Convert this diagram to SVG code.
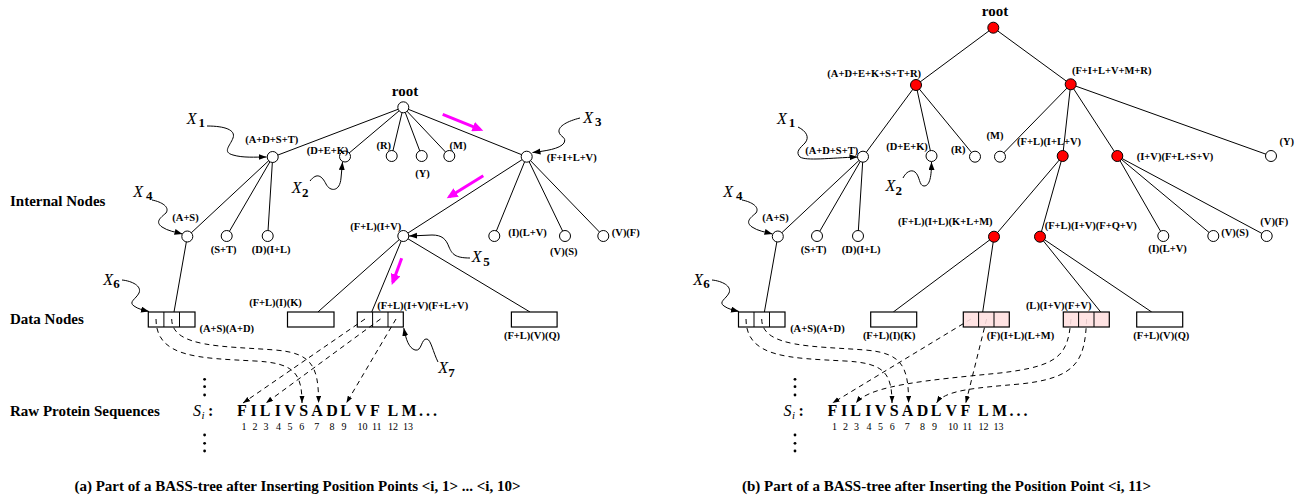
<svg xmlns="http://www.w3.org/2000/svg" width="1305" height="499" viewBox="0 0 1305 499">
<style>
.e{stroke:#000;stroke-width:1;fill:none}
.n{fill:#fff;stroke:#000;stroke-width:1}
.r{fill:#ff0000}
.b{fill:#fff;stroke:#000;stroke-width:1.2}
.p{fill:#ffe0e0}
.d{stroke:#000;stroke-width:1;stroke-dasharray:5 4;fill:none;marker-end:url(#ah)}
.s{stroke:#000;stroke-width:1;fill:none;marker-end:url(#sh)}
.m{stroke:#ff00ff;stroke-width:3;fill:none;marker-end:url(#mh)}
text{font-family:"Liberation Serif","Times New Roman",serif}
.l{font-weight:bold;font-size:10.5px;text-anchor:middle}
.big{font-weight:bold;font-size:15px}
.q{font-weight:bold;font-size:16px;text-anchor:middle}
.k{font-size:10px;text-anchor:middle}
.xl{font-style:italic;font-size:16px}
.xd{font-weight:bold;font-size:13px}
.cap{font-weight:bold;font-size:15px;text-anchor:middle}
</style>
<defs>
<marker id="ah" markerUnits="userSpaceOnUse" markerWidth="8" markerHeight="6" refX="7" refY="2.5" orient="auto"><path d="M0,0 L7,2.5 L0,5 z" fill="#000"/></marker>
<marker id="sh" markerUnits="userSpaceOnUse" markerWidth="9" markerHeight="7" refX="8" refY="3" orient="auto"><path d="M0,0 L8,3 L0,6 z" fill="#000"/></marker>
<marker id="mh" markerUnits="userSpaceOnUse" markerWidth="12" markerHeight="10" refX="8" refY="5" orient="auto"><path d="M0,0 L11,5 L0,10 z" fill="#ff00ff"/></marker>
</defs>

<!-- side labels -->
<g id="side-labels">
<text class="big" x="10" y="206">Internal Nodes</text>
<text class="big" x="10" y="323.5">Data Nodes</text>
<text class="big" x="10" y="415.7">Raw Protein Sequences</text>
</g>

<!-- ===== LEFT PANEL ===== -->
<g id="connectors-a">
<line class="e" x1="403.3" y1="107.3" x2="272.7" y2="157"/>
<line class="e" x1="403.3" y1="107.3" x2="345" y2="156.5"/>
<line class="e" x1="403.3" y1="107.3" x2="391.7" y2="156"/>
<line class="e" x1="403.3" y1="107.3" x2="421.7" y2="156"/>
<line class="e" x1="403.3" y1="107.3" x2="449.3" y2="156"/>
<line class="e" x1="403.3" y1="107.3" x2="526.7" y2="156.7"/>
<line class="e" x1="272.7" y1="157" x2="187.3" y2="236.5"/>
<line class="e" x1="272.7" y1="157" x2="226.7" y2="236"/>
<line class="e" x1="272.7" y1="157" x2="267.7" y2="236"/>
<line class="e" x1="526.7" y1="156.7" x2="403.3" y2="236"/>
<line class="e" x1="526.7" y1="156.7" x2="494.3" y2="236"/>
<line class="e" x1="526.7" y1="156.7" x2="565" y2="236"/>
<line class="e" x1="526.7" y1="156.7" x2="603.3" y2="236"/>
<line class="e" x1="187.3" y1="236.5" x2="174" y2="312"/>
<line class="e" x1="403.3" y1="236" x2="317.9" y2="312"/>
<line class="e" x1="403.3" y1="236" x2="371.7" y2="312"/>
<line class="e" x1="403.3" y1="236" x2="530" y2="312"/>
<path class="d" d="M156,319 C156,358 200,358 255,361 C293,363 302,372 302,403"/>
<path class="d" d="M171.7,319 C171.7,348 225,346 275,350 C312,353 318.6,366 318.6,403"/>
<path class="d" d="M365,319 L243,403"/>
<path class="d" d="M380.5,319 L266,403"/>
<path class="d" d="M396,319 L346.4,403"/>
<path class="s" d="M207,126 C225,126 236,130 233,138 C230,146 222,152 233,155 C243,158 255,157 266.5,157"/>
<path class="s" d="M310,181 C317,172 322,176 326,184 C330,192 340,192 341,178 L342.5,162"/>
<path class="s" d="M580,118 C568,121 558,126 559,132 C560,137 567,137 564,143 C560,149 545,151 532.5,152.5"/>
<path class="s" d="M152,200 C162,202 170,207 166,213 C160,218 155,222 162,227 C168,231 175,232 182.5,234"/>
<path class="s" d="M470,258 C455,258 452,254 449,247 C446,239 442,235 432,235 L409,236"/>
<path class="s" d="M122,280 C132,281 142,286 139,293 C136,299 128,302 134,306 C138,309 143,310 149,311.5"/>
<path class="s" d="M438,362 C433,352 431,340 427,339 C421,338 422,352 415,350 C409,348 406,340 403.8,328"/>
<line class="m" x1="442.7" y1="114.3" x2="480.5" y2="129.6"/>
<line class="m" x1="483.3" y1="175.7" x2="449.3" y2="196.7"/>
<line class="m" x1="401.7" y1="258.3" x2="392.8" y2="282.2"/>
</g>

<g id="a-root"><circle class="n" cx="403.3" cy="107.3" r="5.5"/><text class="big" x="405" y="96" text-anchor="middle">root</text></g>
<g id="a-adst"><circle class="n" cx="272.7" cy="157" r="5.5"/><text class="l" x="271.7" y="143">(A+D+S+T)</text></g>
<g id="a-dek"><circle class="n" cx="345" cy="156.5" r="5.5"/><text class="l" x="327.5" y="153.5">(D+E+K)</text></g>
<g id="a-r"><circle class="n" cx="391.7" cy="156" r="5.5"/><text class="l" x="383.7" y="149">(R)</text></g>
<g id="a-y"><circle class="n" cx="421.7" cy="156" r="5.5"/><text class="l" x="422.5" y="177">(Y)</text></g>
<g id="a-m"><circle class="n" cx="449.3" cy="156" r="5.5"/><text class="l" x="458" y="149">(M)</text></g>
<g id="a-filv"><circle class="n" cx="526.7" cy="156.7" r="5.5"/><text class="l" x="571.7" y="161">(F+I+L+V)</text></g>
<g id="a-as"><circle class="n" cx="187.3" cy="236.5" r="5.5"/><text class="l" x="185.5" y="221">(A+S)</text></g>
<g id="a-st"><circle class="n" cx="226.7" cy="236" r="5.5"/><text class="l" x="223.7" y="252.5">(S+T)</text></g>
<g id="a-dil"><circle class="n" cx="267.7" cy="236" r="5.5"/><text class="l" x="271.2" y="252.5">(D)(I+L)</text></g>
<g id="a-fliv"><circle class="n" cx="403.3" cy="236" r="5.5"/><text class="l" x="375.8" y="230">(F+L)(I+V)</text></g>
<g id="a-ilv"><circle class="n" cx="494.3" cy="236" r="5.5"/><text class="l" x="527.5" y="236">(I)(L+V)</text></g>
<g id="a-vs"><circle class="n" cx="565" cy="236" r="5.5"/><text class="l" x="563.8" y="255">(V)(S)</text></g>
<g id="a-vf"><circle class="n" cx="603.3" cy="236" r="5.5"/><text class="l" x="625.8" y="236">(V)(F)</text></g>

<g id="a-box1"><rect class="b" x="148.3" y="312" width="46.7" height="15" fill-opacity="0"/><line class="e" x1="163.9" y1="312" x2="163.9" y2="327"/><line class="e" x1="179.5" y1="312" x2="179.5" y2="327"/><text class="l" x="226.7" y="331.5">(A+S)(A+D)</text></g>
<g id="a-box2"><rect class="b" x="287.5" y="312" width="46.5" height="15"/><text class="l" x="275.5" y="306">(F+L)(I)(K)</text></g>
<g id="a-box3"><rect class="b" x="357.3" y="312" width="46" height="15" fill-opacity="0"/><line class="e" x1="372.6" y1="312" x2="372.6" y2="327"/><line class="e" x1="388" y1="312" x2="388" y2="327"/><text class="l" x="422.7" y="308.5">(F+L)(I+V)(F+L+V)</text></g>
<g id="a-box4"><rect class="b" x="511.4" y="312" width="45.7" height="15"/><text class="l" x="532" y="339">(F+L)(V)(Q)</text></g>

<g id="a-xlabels">
<text x="186.7" y="124"><tspan class="xl">X</tspan></text><text class="xd" x="198.5" y="127">1</text>
<text x="291.7" y="193.3"><tspan class="xl">X</tspan></text><text class="xd" x="302" y="197">2</text>
<text x="583.3" y="123.3"><tspan class="xl">X</tspan></text><text class="xd" x="595" y="126">3</text>
<text x="133.3" y="197.3"><tspan class="xl">X</tspan></text><text class="xd" x="146" y="200">4</text>
<text x="471.7" y="262.3"><tspan class="xl">X</tspan></text><text class="xd" x="483.3" y="266">5</text>
<text x="103.3" y="285.3"><tspan class="xl">X</tspan></text><text class="xd" x="113.3" y="288">6</text>
<text x="438.3" y="373.3"><tspan class="xl">X</tspan></text><text class="xd" x="448.3" y="376.7">7</text>
</g>

<g id="a-seq">
<circle cx="204.6" cy="379.3" r="1.4"/><circle cx="204.6" cy="386.7" r="1.4"/><circle cx="204.6" cy="395" r="1.4"/>
<circle cx="204.6" cy="435" r="1.4"/><circle cx="204.6" cy="443.3" r="1.4"/><circle cx="204.6" cy="451" r="1.4"/>
<text x="193" y="415.7" class="xl">S</text><text x="201.5" y="419" font-style="italic" font-size="11">i</text><text x="208" y="415.7" font-weight="bold" font-size="16">:</text>
<text class="q" x="242" y="415.7">F</text><text class="q" x="253.6" y="415.7">I</text><text class="q" x="265" y="415.7">L</text><text class="q" x="277.9" y="415.7">I</text><text class="q" x="290" y="415.7">V</text><text class="q" x="303.6" y="415.7">S</text><text class="q" x="317" y="415.7">A</text><text class="q" x="332" y="415.7">D</text><text class="q" x="345.7" y="415.7">L</text><text class="q" x="360.7" y="415.7">V</text><text class="q" x="375" y="415.7">F</text><text class="q" x="392.9" y="415.7">L</text><text class="q" x="409" y="415.7">M</text>
<text x="419" y="415.7" font-weight="bold" font-size="16" letter-spacing="3">...</text>
<text class="k" x="244" y="430">1</text><text class="k" x="255" y="430">2</text><text class="k" x="266" y="430">3</text><text class="k" x="278.6" y="430">4</text><text class="k" x="290" y="430">5</text><text class="k" x="301.8" y="430">6</text><text class="k" x="316.8" y="430">7</text><text class="k" x="332" y="430">8</text><text class="k" x="344" y="430">9</text><text class="k" x="362.5" y="430">10</text><text class="k" x="376.8" y="430">11</text><text class="k" x="392.9" y="430">12</text><text class="k" x="407.9" y="430">13</text>
</g>

<!-- ===== RIGHT PANEL ===== -->
<g id="connectors-b">
<line class="e" x1="993.3" y1="27.7" x2="916" y2="85"/>
<line class="e" x1="993.3" y1="27.7" x2="1070.7" y2="84.3"/>
<line class="e" x1="916" y1="85" x2="863" y2="156.7"/>
<line class="e" x1="916" y1="85" x2="931.5" y2="156"/>
<line class="e" x1="916" y1="85" x2="975" y2="156.7"/>
<line class="e" x1="1070.7" y1="84.3" x2="1000" y2="156.7"/>
<line class="e" x1="1070.7" y1="84.3" x2="1062.7" y2="156"/>
<line class="e" x1="1070.7" y1="84.3" x2="1117.3" y2="156"/>
<line class="e" x1="1070.7" y1="84.3" x2="1271" y2="156"/>
<line class="e" x1="863" y1="156.7" x2="777.8" y2="236.5"/>
<line class="e" x1="863" y1="156.7" x2="817" y2="236"/>
<line class="e" x1="863" y1="156.7" x2="858" y2="236"/>
<line class="e" x1="1062.7" y1="156" x2="994" y2="236.7"/>
<line class="e" x1="1062.7" y1="156" x2="1040" y2="236.7"/>
<line class="e" x1="1117.3" y1="156" x2="1163.3" y2="236"/>
<line class="e" x1="1117.3" y1="156" x2="1213.3" y2="236"/>
<line class="e" x1="1117.3" y1="156" x2="1266.7" y2="236"/>
<line class="e" x1="777.8" y1="236.5" x2="764.4" y2="312"/>
<line class="e" x1="994" y1="236.7" x2="893.3" y2="312"/>
<line class="e" x1="994" y1="236.7" x2="982.7" y2="312"/>
<line class="e" x1="1040" y1="236.7" x2="1100.7" y2="312"/>
<line class="e" x1="1040" y1="236.7" x2="1151.7" y2="312"/>
<path class="d" d="M746,319 C746,358 790,358 845,361 C883,363 892,372 892,403"/>
<path class="d" d="M761.7,319 C761.7,348 815,346 865,350 C902,353 908.6,366 908.6,403"/>
<path class="d" d="M971,319 L832.5,403"/>
<path class="d" d="M986.6,319 L965.8,403"/>
<path class="d" d="M1071,319 C1068,355 1060,366 1000,373 C930,380 870,385 856,403"/>
<path class="d" d="M1086.6,319 C1085,360 1078,378 1020,384 C975,388 945,390 936.5,403"/>
<path class="s" d="M798,127 C806,131 810,137 805,143 C800,148 795,152 800,157 C806,161 830,158 857.5,157"/>
<path class="s" d="M903,178 C906,172 911,169 915,172 C920,176 919,186 924,186 C930,186 931.5,176 931.5,162"/>
<path class="s" d="M742,200 C752,202 760,207 756,213 C750,218 745,222 752,227 C758,231 765,232 772.5,234"/>
<path class="s" d="M712,280 C722,281 732,286 729,293 C726,299 718,302 724,306 C728,309 733,310 739,311.5"/>
</g>

<g id="b-root"><circle class="n r" cx="993.3" cy="27.7" r="5.5"/><text class="big" x="995" y="16" text-anchor="middle">root</text></g>
<g id="b-left"><circle class="n r" cx="916" cy="85" r="5.5"/><text class="l" x="874.2" y="77">(A+D+E+K+S+T+R)</text></g>
<g id="b-right"><circle class="n r" cx="1070.7" cy="84.3" r="5.5"/><text class="l" x="1111.7" y="73.5">(F+I+L+V+M+R)</text></g>
<g id="b-adst"><circle class="n" cx="863" cy="156.7" r="5.5"/><text class="l" x="831.7" y="153.5">(A+D+S+T)</text></g>
<g id="b-dek"><circle class="n" cx="931.5" cy="156" r="5.5"/><text class="l" x="907" y="149.5">(D+E+K)</text></g>
<g id="b-r"><circle class="n" cx="975" cy="156.7" r="5.5"/><text class="l" x="958.3" y="152.8">(R)</text></g>
<g id="b-m"><circle class="n" cx="1000" cy="156.7" r="5.5"/><text class="l" x="995" y="138.5">(M)</text></g>
<g id="b-flilv"><circle class="n r" cx="1062.7" cy="156" r="5.5"/><text class="l" x="1049" y="145">(F+L)(I+L+V)</text></g>
<g id="b-ivflsv"><circle class="n r" cx="1117.3" cy="156" r="5.5"/><text class="l" x="1175" y="160">(I+V)(F+L+S+V)</text></g>
<g id="b-y"><circle class="n" cx="1271" cy="156" r="5.5"/><text class="l" x="1286.7" y="145">(Y)</text></g>
<g id="b-as"><circle class="n" cx="777.8" cy="236.5" r="5.5"/><text class="l" x="775.5" y="221">(A+S)</text></g>
<g id="b-st"><circle class="n" cx="817" cy="236" r="5.5"/><text class="l" x="813.7" y="252.5">(S+T)</text></g>
<g id="b-dil"><circle class="n" cx="858" cy="236" r="5.5"/><text class="l" x="861.2" y="252.5">(D)(I+L)</text></g>
<g id="b-flilklm"><circle class="n r" cx="994" cy="236.7" r="5.5"/><text class="l" x="945.3" y="225">(F+L)(I+L)(K+L+M)</text></g>
<g id="b-flivfqv"><circle class="n r" cx="1040" cy="236.7" r="5.5"/><text class="l" x="1090.8" y="229">(F+L)(I+V)(F+Q+V)</text></g>
<g id="b-ilv"><circle class="n" cx="1163.3" cy="236" r="5.5"/><text class="l" x="1167.5" y="252">(I)(L+V)</text></g>
<g id="b-vs"><circle class="n" cx="1213.3" cy="236" r="5.5"/><text class="l" x="1235" y="236">(V)(S)</text></g>
<g id="b-vf"><circle class="n" cx="1266.7" cy="236" r="5.5"/><text class="l" x="1274.3" y="225">(V)(F)</text></g>

<g id="b-box1"><rect class="b" x="738.5" y="312" width="46.5" height="15" fill-opacity="0"/><line class="e" x1="754" y1="312" x2="754" y2="327"/><line class="e" x1="769.5" y1="312" x2="769.5" y2="327"/><text class="l" x="817.4" y="332">(A+S)(A+D)</text></g>
<g id="b-box2"><rect class="b" x="870.7" y="312" width="46" height="15"/><text class="l" x="889.2" y="339">(F+L)(I)(K)</text></g>
<g id="b-box3"><rect class="b p" x="963.3" y="312" width="46" height="15" fill-opacity="0.9"/><line class="e" x1="978.6" y1="312" x2="978.6" y2="327"/><line class="e" x1="994" y1="312" x2="994" y2="327"/><text class="l" x="1020.5" y="339">(F)(I+L)(L+M)</text></g>
<g id="b-box4"><rect class="b p" x="1063.3" y="312" width="46" height="15" fill-opacity="0.9"/><line class="e" x1="1078.6" y1="312" x2="1078.6" y2="327"/><line class="e" x1="1094" y1="312" x2="1094" y2="327"/><text class="l" x="1058.7" y="308.5">(L)(I+V)(F+V)</text></g>
<g id="b-box5"><rect class="b" x="1136.7" y="312" width="46" height="15"/><text class="l" x="1161.3" y="339">(F+L)(V)(Q)</text></g>

<g id="b-xlabels">
<text x="777" y="124"><tspan class="xl">X</tspan></text><text class="xd" x="788.8" y="127">1</text>
<text x="885.5" y="190.7"><tspan class="xl">X</tspan></text><text class="xd" x="895.5" y="195">2</text>
<text x="723.3" y="197.3"><tspan class="xl">X</tspan></text><text class="xd" x="736" y="200">4</text>
<text x="693.3" y="285.3"><tspan class="xl">X</tspan></text><text class="xd" x="703.3" y="288">6</text>
</g>

<g id="b-seq">
<circle cx="795" cy="379.3" r="1.4"/><circle cx="795" cy="386.7" r="1.4"/><circle cx="795" cy="395" r="1.4"/>
<circle cx="795" cy="435" r="1.4"/><circle cx="795" cy="443.3" r="1.4"/><circle cx="795" cy="451" r="1.4"/>
<text x="783.5" y="415.7" class="xl">S</text><text x="792" y="419" font-style="italic" font-size="11">i</text><text x="798.5" y="415.7" font-weight="bold" font-size="16">:</text>
<text class="q" x="832.5" y="415.7">F</text><text class="q" x="844.1" y="415.7">I</text><text class="q" x="855.5" y="415.7">L</text><text class="q" x="868.4" y="415.7">I</text><text class="q" x="880.5" y="415.7">V</text><text class="q" x="894.1" y="415.7">S</text><text class="q" x="907.5" y="415.7">A</text><text class="q" x="922.5" y="415.7">D</text><text class="q" x="936.2" y="415.7">L</text><text class="q" x="951.2" y="415.7">V</text><text class="q" x="965.5" y="415.7">F</text><text class="q" x="983.4" y="415.7">L</text><text class="q" x="999.5" y="415.7">M</text>
<text x="1009.5" y="415.7" font-weight="bold" font-size="16" letter-spacing="3">...</text>
<text class="k" x="834.5" y="430">1</text><text class="k" x="845.5" y="430">2</text><text class="k" x="856.5" y="430">3</text><text class="k" x="869.1" y="430">4</text><text class="k" x="880.5" y="430">5</text><text class="k" x="892.3" y="430">6</text><text class="k" x="907.3" y="430">7</text><text class="k" x="922.5" y="430">8</text><text class="k" x="934.5" y="430">9</text><text class="k" x="953" y="430">10</text><text class="k" x="967.3" y="430">11</text><text class="k" x="983.4" y="430">12</text><text class="k" x="998.4" y="430">13</text>
</g>

<g id="captions">
<text class="cap" x="297.5" y="491">(a) Part of a BASS-tree after Inserting Position Points &lt;i, 1&gt; ... &lt;i, 10&gt;</text>
<text class="cap" x="946.5" y="491">(b) Part of a BASS-tree after Inserting the Position Point &lt;i, 11&gt;</text>
</g>
</svg>
